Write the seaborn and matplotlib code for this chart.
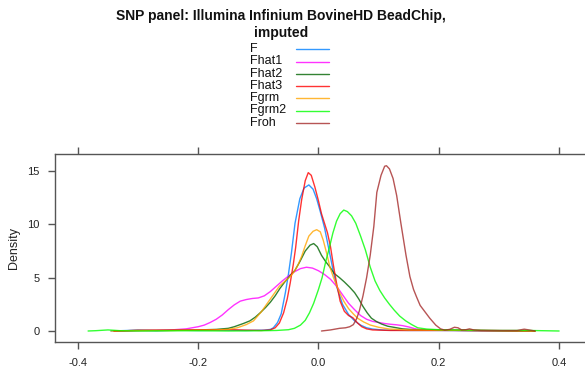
import matplotlib
matplotlib.use("Agg")
import matplotlib.pyplot as plt
from matplotlib.lines import Line2D
import seaborn as sns
import pandas as pd

series_names = ["F", "Fhat1", "Fhat2", "Fhat3", "Fgrm", "Fgrm2", "Froh"]
series_colors = ["#0080ff", "#ff00ff", "#006400", "#ff0000", "#ffa500", "#00ff00", "#a52a2a"]

F_x = [-0.345, -0.30, -0.27, -0.24, -0.20, -0.15, -0.12, -0.09, -0.08, -0.075, -0.068, -0.062, -0.055,
       -0.05, -0.045, -0.039, -0.031, -0.024, -0.016, -0.009, -0.003, 0.003, 0.01, 0.015, 0.02, 0.025,
       0.03, 0.04, 0.05, 0.06, 0.07, 0.08, 0.09, 0.11, 0.15, 0.2, 0.25, 0.3, 0.35]
F_y = [0.0, 0.08, 0.03, 0.08, 0.05, 0.08, 0.05, 0.08, 0.15, 0.3, 0.8, 1.6, 3.6,
       5.3, 7.3, 10.1, 12.4, 13.4, 13.7, 13.3, 12.4, 11.2, 9.7, 8.3, 6.9, 5.5,
       4.2, 2.5, 1.55, 0.95, 0.55, 0.3, 0.18, 0.08, 0.05, 0.05, 0.03, 0.02, 0.0]

Fhat1_x = [-0.34, -0.3, -0.25, -0.22, -0.2, -0.19, -0.18, -0.17, -0.16, -0.15, -0.14, -0.13, -0.12,
           -0.11, -0.1, -0.09, -0.08, -0.07, -0.06, -0.05, -0.04, -0.03, -0.02, -0.01, 0.0, 0.01,
           0.02, 0.03, 0.04, 0.05, 0.06, 0.07, 0.08, 0.09, 0.1, 0.11, 0.12, 0.13, 0.14, 0.15, 0.16,
           0.17, 0.2, 0.25, 0.3, 0.36]
Fhat1_y = [0.0, 0.05, 0.08, 0.2, 0.4, 0.55, 0.8, 1.1, 1.5, 2.0, 2.45, 2.8, 2.95,
           3.05, 3.1, 3.3, 3.7, 4.2, 4.7, 5.15, 5.55, 5.85, 5.98, 5.9, 5.65, 5.3,
           4.85, 4.2, 3.4, 2.6, 2.0, 1.45, 1.1, 0.9, 0.8, 0.7, 0.63, 0.58, 0.5, 0.38, 0.22,
           0.12, 0.08, 0.05, 0.03, 0.0]

Fhat2_x = [-0.34, -0.3, -0.25, -0.2, -0.17, -0.15, -0.14, -0.125, -0.114, -0.105, -0.097, -0.088,
           -0.08, -0.072, -0.064, -0.056, -0.047, -0.039, -0.031, -0.022, -0.014, -0.008, -0.002,
           0.005, 0.012, 0.019, 0.026, 0.035, 0.043, 0.052, 0.06, 0.067, 0.074, 0.081, 0.088, 0.096,
           0.105, 0.115, 0.125, 0.14, 0.16, 0.2, 0.25, 0.3, 0.36]
Fhat2_y = [0.0, 0.05, 0.05, 0.1, 0.15, 0.25, 0.4, 0.7, 0.95, 1.3, 1.7, 2.2,
           2.7, 3.3, 4.0, 4.6, 5.2, 5.7, 6.5, 7.5, 8.05, 8.2, 7.9,
           7.1, 6.5, 6.0, 5.4, 5.0, 4.6, 4.1, 3.6, 3.0, 2.3, 1.7, 1.2, 0.9,
           0.65, 0.45, 0.35, 0.2, 0.12, 0.08, 0.05, 0.02, 0.0]

Fhat3_x = [-0.34, -0.3, -0.25, -0.2, -0.15, -0.12, -0.095, -0.08, -0.072, -0.065, -0.058, -0.052,
           -0.047, -0.042, -0.038, -0.033, -0.028, -0.022, -0.017, -0.012, -0.006, 0.0, 0.005, 0.01,
           0.015, 0.02, 0.025, 0.03, 0.036, 0.043, 0.05, 0.057, 0.065, 0.072, 0.08, 0.09, 0.12, 0.2,
           0.25, 0.3, 0.36]
Fhat3_y = [0.0, 0.05, 0.08, 0.1, 0.12, 0.08, 0.05, 0.1, 0.3, 0.75, 1.7, 3.0,
           4.5, 6.2, 7.8, 10.3, 12.3, 14.1, 14.85, 14.6, 13.5, 12.2, 11.0, 10.1,
           9.2, 7.9, 6.1, 4.5, 2.8, 1.85, 1.45, 1.25, 0.75, 0.4, 0.2, 0.1, 0.05, 0.05,
           0.05, 0.03, 0.0]

Fgrm_x = [-0.345, -0.3, -0.25, -0.2, -0.17, -0.15, -0.135, -0.12, -0.108, -0.095, -0.085, -0.075,
          -0.065, -0.055, -0.047, -0.04, -0.034, -0.028, -0.022, -0.016, -0.009, -0.003, 0.003,
          0.008, 0.014, 0.019, 0.025, 0.03, 0.036, 0.042, 0.05, 0.058, 0.065, 0.075, 0.086, 0.1,
          0.118, 0.15, 0.2, 0.25, 0.3, 0.36]
Fgrm_y = [0.0, 0.05, 0.05, 0.08, 0.1, 0.15, 0.3, 0.6, 0.95, 1.8, 2.6, 3.4,
          4.2, 4.7, 5.1, 5.6, 6.2, 7.0, 8.0, 8.9, 9.35, 9.5, 9.3,
          8.5, 7.2, 6.0, 5.0, 4.3, 3.5, 2.8, 2.1, 1.6, 1.2, 0.85, 0.56, 0.35,
          0.18, 0.1, 0.08, 0.05, 0.03, 0.0]

Fgrm2_x = [-0.383, -0.37, -0.35, -0.33, -0.3, -0.25, -0.2, -0.15, -0.1, -0.07, -0.05, -0.04, -0.03,
           -0.022, -0.015, -0.008, 0.0, 0.006, 0.012, 0.018, 0.024, 0.03, 0.036, 0.042, 0.048, 0.055,
           0.062, 0.07, 0.078, 0.086, 0.094, 0.102, 0.11, 0.118, 0.126, 0.135, 0.145, 0.155, 0.165,
           0.18, 0.2, 0.25, 0.3, 0.35, 0.4]
Fgrm2_y = [0.0, 0.03, 0.1, 0.03, 0.0, 0.02, 0.02, 0.0, 0.02, 0.05, 0.12, 0.25, 0.55,
           1.0, 1.7, 2.6, 3.9, 5.0, 6.5, 7.8, 9.2, 10.3, 11.0, 11.34, 11.2, 10.8,
           10.1, 8.9, 7.6, 6.0, 4.7, 3.8, 3.1, 2.5, 1.95, 1.4, 0.95, 0.6, 0.3,
           0.18, 0.12, 0.08, 0.05, 0.05, 0.0]

Froh_x = [0.005, 0.02, 0.035, 0.045, 0.052, 0.058, 0.063, 0.068, 0.074, 0.08, 0.086, 0.092, 0.097,
          0.104, 0.11, 0.113, 0.118, 0.124, 0.13, 0.137, 0.1455, 0.152, 0.158, 0.163, 0.169, 0.177,
          0.185, 0.195, 0.203, 0.21, 0.218, 0.226, 0.232, 0.238, 0.245, 0.251, 0.258, 0.27, 0.3,
          0.33, 0.342, 0.35, 0.36]
Froh_y = [0.0, 0.1, 0.25, 0.3, 0.4, 0.6, 1.1, 1.9, 3.3, 5.0, 7.1, 9.8, 13.0,
          14.6, 15.45, 15.5, 15.2, 14.3, 12.7, 10.1, 7.1, 5.1, 3.9, 3.2, 2.4, 1.8,
          1.2, 0.55, 0.2, 0.08, 0.15, 0.35, 0.3, 0.1, 0.12, 0.2, 0.1, 0.05, 0.05,
          0.05, 0.17, 0.1, 0.0]

x_ticks = [-0.4, -0.2, 0.0, 0.2, 0.4]
x_tick_labels = ["-0.4", "-0.2", "0.0", "0.2", "0.4"]
y_ticks = [0, 5, 10, 15]
y_tick_labels = ["0", "5", "10", "15"]
title_text = "SNP panel: Illumina Infinium BovineHD BeadChip,\nimputed"
y_label = "Density"

series_data = {
    "F": (F_x, F_y), "Fhat1": (Fhat1_x, Fhat1_y), "Fhat2": (Fhat2_x, Fhat2_y),
    "Fhat3": (Fhat3_x, Fhat3_y), "Fgrm": (Fgrm_x, Fgrm_y), "Fgrm2": (Fgrm2_x, Fgrm2_y),
    "Froh": (Froh_x, Froh_y),
}
frames = []
for name in series_names:
    xs, ys = series_data[name]
    frames.append(pd.DataFrame({"x": xs, "density": ys, "series": name}))
df = pd.concat(frames, ignore_index=True)

sns.set_style("white")
plt.rcParams["font.family"] = ["Liberation Sans", "DejaVu Sans"]

W, H = 585, 369
fig = plt.figure(figsize=(W / 100, H / 100), dpi=100)
left, right, top, bottom = 55, 592, 154.3, 342.3
ax = fig.add_axes([left / W, 1 - bottom / H, (right - left) / W, (bottom - top) / H])

palette = dict(zip(series_names, series_colors))
sns.lineplot(data=df, x="x", y="density", hue="series", palette=palette, hue_order=series_names,
             estimator=None, sort=False, legend=False, linewidth=1.0, alpha=0.8, ax=ax)

ax.set_xlim(-0.438, 0.4547)
ax.set_ylim(-1.06, 16.57)
ax.set_xticks(x_ticks)
ax.set_xticklabels(x_tick_labels)
ax.set_yticks(y_ticks)
ax.set_yticklabels(y_tick_labels)
ax.set_xlabel("")
ax.set_ylabel(y_label, fontsize=9, color="#222222", labelpad=5)
for sp in ax.spines.values():
    sp.set_visible(True)
    sp.set_color("#555555")
    sp.set_linewidth(1.0)
ax.tick_params(axis="both", which="both", direction="out", length=5, width=1.0, color="#555555",
               labelsize=8, labelcolor="#222222", top=True, right=True, bottom=True, left=True,
               labeltop=False, labelright=False, pad=6)

fig.text(281 / W, 1 - 9 / H, title_text, ha="center", va="top", fontsize=10, fontweight="bold",
         color="#111111", linespacing=1.3)

legend_rows = [49, 61.5, 73.8, 86, 98.3, 110.5, 123]
for name, color, yy in zip(series_names, series_colors, legend_rows):
    fig.text(250 / W, 1 - yy / H, name, ha="left", va="center", fontsize=9, color="#111111")
    fig.add_artist(Line2D([296 / W, 329 / W], [1 - yy / H, 1 - yy / H], transform=fig.transFigure,
                          color=color, linewidth=1.0, alpha=0.8))

fig.savefig("out.png", dpi=100)
